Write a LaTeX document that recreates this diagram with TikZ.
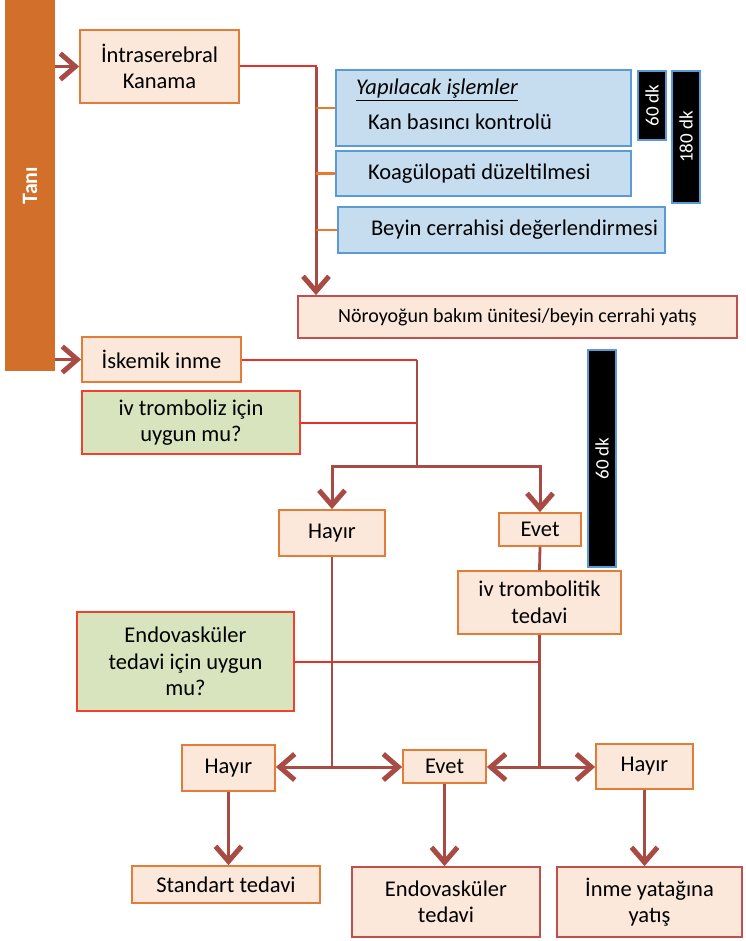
\documentclass[tikz,border=0pt]{standalone}
\usepackage{fontspec}
\setmainfont{Carlito}
\usetikzlibrary{arrows.meta,calc}

\definecolor{taniorange}{HTML}{D2702B}
\definecolor{peach}{HTML}{FBE8DB}
\definecolor{boxorange}{HTML}{E37C36}
\definecolor{boxred}{HTML}{C0504D}
\definecolor{qgreen}{HTML}{D8E4BD}
\definecolor{qred}{HTML}{F0402E}
\definecolor{lblue}{HTML}{C6DDF0}
\definecolor{bblue}{HTML}{5B9BD5}
\definecolor{arrcol}{HTML}{A94B45}
\definecolor{redln}{HTML}{E8302A}
\definecolor{orln}{HTML}{E8792F}

\tikzset{
  box/.style={draw=boxorange, fill=peach, line width=1.8pt, align=center, inner sep=0pt,
    font=\fontsize{22.5}{26.5}\selectfont},
  endbox/.style={box, draw=boxred},
  qbox/.style={draw=qred, fill=qgreen, line width=1.8pt, align=center, inner sep=0pt,
    font=\fontsize{22.5}{26.5}\selectfont},
  bluebox/.style={draw=bblue, fill=lblue, line width=1.8pt, align=flush left, inner ysep=0pt, inner xsep=5,
    font=\fontsize{22.5}{26.5}\selectfont},
  timebar/.style={draw=bblue, fill=black, text=white, line width=1.5pt, rotate=90, inner sep=0pt,
    font=\fontsize{19}{22}\selectfont},
  arr/.style={draw=arrcol, line width=3pt, -{Straight Barb[length=15pt,width=26pt,line width=5pt]}},
  brline/.style={draw=arrcol, line width=2.8pt},
  redline/.style={draw=redln, line width=2pt},
  orline/.style={draw=orln, line width=2.6pt}
}

\begin{document}
\begin{tikzpicture}[x=1pt, y=-1pt]
    \useasboundingbox (0,0) rectangle (745,941);
    % Tani bar
    \node[fill=taniorange, text=white, rotate=90, minimum width=371, minimum height=50, inner sep=0pt,
      font=\fontsize{22}{26}\selectfont\bfseries] (tani) at (30,185.5) {Tanı};
    % intraserebral branch
    \node[box, minimum width=159, minimum height=73] (intra) at (159.5,66.5) {İntraserebral\\Kanama};
    \node[bluebox, minimum width=295, minimum height=76, text width=285] (islem1) at (483.5,108)
      {\hspace*{15pt}\textit{\underline{Yapılacak işlemler}}\\[8pt]\hspace*{27pt}Kan basıncı kontrolü\\[-27pt]\strut};
    \node[bluebox, minimum width=295, minimum height=45, text width=285] (islem2) at (483.5,173.5)
      {\hspace*{27pt}Koagülopati düzeltilmesi};
    \node[bluebox, minimum width=327, minimum height=46, text width=317] (islem3) at (501.5,230)
      {\hspace*{28pt}Beyin cerrahisi değerlendirmesi};
    \node[timebar, minimum width=69, minimum height=28] (dk60a) at (652,105.5) {60 dk};
    \node[timebar, minimum width=132, minimum height=28] (dk180) at (686,137) {180 dk};
    \node[endbox, minimum width=439, minimum height=42, font=\fontsize{20}{24}\selectfont] (noro) at (517.5,317)
      {Nöroyoğun bakım ünitesi/beyin cerrahi yatış};
    % iskemik branch
    \node[box, minimum width=159, minimum height=45] (iskemik) at (161.5,359.5) {İskemik inme};
    \node[qbox, minimum width=218, minimum height=63] (ivsor) at (191,422.5) {iv tromboliz için\\uygun mu?};
    \node[box, minimum width=106, minimum height=46] (hayir1) at (332,533) {Hayır};
    \node[box, minimum width=82, minimum height=33] (evet1) at (540,529.5) {Evet};
    \node[timebar, minimum width=217, minimum height=28] (dk60b) at (602,458.5) {60 dk};
    \node[box, minimum width=163, minimum height=63] (ivtedavi) at (539.5,602.5) {iv trombolitik\\tedavi};
    \node[qbox, minimum width=217, minimum height=99] (endosor) at (185.5,661.5)
      {Endovasküler\\tedavi için uygun\\mu?};
    \node[box, minimum width=93, minimum height=46] (hayir2) at (228.5,768) {Hayır};
    \node[box, minimum width=83, minimum height=33] (evet2) at (444.5,766.5) {Evet};
    \node[box, minimum width=97, minimum height=45] (hayir3) at (644.5,766.5) {Hayır};
    \node[box, minimum width=188, minimum height=37] (standart) at (226,884.5) {Standart tedavi};
    \node[endbox, minimum width=188, minimum height=70] (endotedavi) at (446,902) {Endovasküler\\tedavi};
    \node[endbox, minimum width=185, minimum height=70] (inme) at (649.5,902) {İnme yatağına\\yatış};

    \coordinate (ich) at (316,67);
    \coordinate (jn) at (417,466);
    \coordinate (jl) at (332,767);

    \draw[arr] (intra.west -| tani.south) -- (intra.west);
    \draw[arr] (iskemik.west -| tani.south) -- (iskemik.west);
    \draw[redline] (intra.east) -- (intra.east -| ich) -- (ich);
    \draw[arr] (ich) -- (ich |- noro.north);
    \draw[orline] (ich |- islem1.west) -- (islem1.west);
    \draw[orline] (ich |- islem2.west) -- (islem2.west);
    \draw[orline] (ich |- islem3.west) -- (islem3.west);

    \draw[redline] (iskemik.east) -- (iskemik.east -| jn);
    \draw[redline] (ivsor.east) -- (ivsor.east -| jn);
    \draw[brline] (iskemik.east -| jn) -- (jn);
    \draw[arr] (jn) -| (hayir1.north);
    \draw[arr] (jn) -| (evet1.north);
    \draw[brline] (evet1.south) -- (ivtedavi.north);

    \draw[redline] (endosor.east) -- (endosor.east -| ivtedavi.south);
    \draw[brline] (hayir1.south) -- (jl);
    \draw[arr] (jl) -- (jl -| hayir2.east);
    \draw[arr] (jl) -- (jl -| evet2.west);
    \draw[brline] (ivtedavi.south) -- (ivtedavi.south |- jl);
    \draw[arr] (ivtedavi.south |- jl) -- (jl -| evet2.east);
    \draw[arr] (ivtedavi.south |- jl) -- (jl -| hayir3.west);

    \draw[arr] (hayir2.south) -- (hayir2.south |- standart.north);
    \draw[arr] (evet2.south) -- (evet2.south |- endotedavi.north);
    \draw[arr] (hayir3.south) -- (hayir3.south |- inme.north);
\end{tikzpicture}
\end{document}
